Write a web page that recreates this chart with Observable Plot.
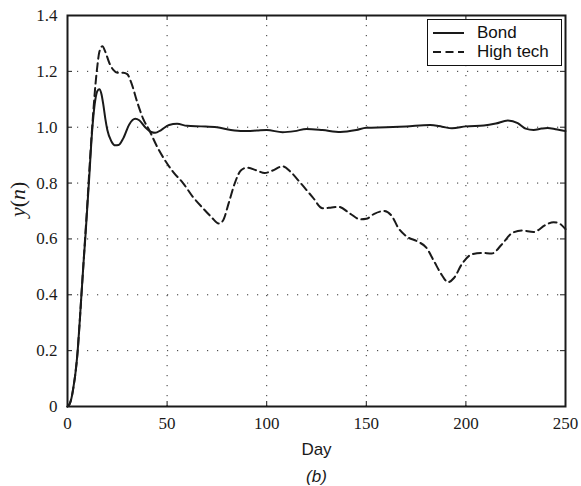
<!DOCTYPE html>
<html>
<head>
<meta charset="utf-8">
<script src="https://cdn.jsdelivr.net/npm/d3@7"></script>
<script src="https://cdn.jsdelivr.net/npm/@observablehq/plot@0.6"></script>
<style>
  body { margin: 0; background: #fff; }
  #wrap { position: relative; width: 581px; height: 486px; }
  #legend { position: absolute; left: 427px; top: 19px; width: 133px; height: 45px;
    border: 1px solid #111; background: #fff; font: 17px "Liberation Sans", Arial, sans-serif; color: #111; }
  .row { position: absolute; left: 5px; height: 20px; display: flex; align-items: center; }
  .row svg { margin-right: 13px; }
</style>
</head>
<body>
<div id="wrap"></div>
<script>
const seriesNames = ["Bond", "High tech"];
const bondDay = [0,1,2,3,4,5,6,7,8,9,10,11,12,13,14,15,16,17,18,19,20,22,24,25.6,28,31,34,36,39,42,44,47,51,55,60,67,75,82,88,95,100,108,114,120,128,137,145,150,160,170,182,188,193,200,209,215,221,226,230,234,238,241,245,250];
const bondVal = [0,0.008,0.03,0.07,0.12,0.19,0.29,0.40,0.51,0.61,0.72,0.83,0.95,1.04,1.10,1.13,1.136,1.12,1.08,1.03,0.99,0.95,0.935,0.936,0.96,1.01,1.03,1.025,1.0,0.983,0.98,0.99,1.008,1.012,1.005,1.003,1.0,0.99,0.986,0.988,0.99,0.982,0.986,0.994,0.99,0.983,0.99,0.998,1.0,1.003,1.008,1.002,0.996,1.003,1.006,1.013,1.024,1.015,0.995,0.99,0.995,0.997,0.993,0.986];
const techDay = [0,1,2,3,4,5,6,7,8,9,10,11,12,13,14,15,16,17.5,19,21,23,25,28,30,32,35,38,41,45,50,53,58,63,68,72,76,78,81,84,87,90,95,99,103,108,112,117,123,128,132,136,142,147,150,154,159,163,166,170,176,180,184,188,191,194,198,203,208,213,218,223,228,234,240,244,247,250];
const techVal = [0,0.008,0.03,0.07,0.12,0.19,0.29,0.40,0.51,0.62,0.73,0.85,0.96,1.06,1.15,1.22,1.27,1.29,1.27,1.23,1.205,1.195,1.195,1.19,1.16,1.09,1.03,0.99,0.93,0.87,0.84,0.80,0.75,0.71,0.68,0.655,0.665,0.73,0.80,0.845,0.855,0.845,0.836,0.845,0.86,0.84,0.80,0.75,0.71,0.712,0.715,0.69,0.67,0.672,0.69,0.70,0.68,0.64,0.61,0.59,0.57,0.52,0.47,0.445,0.46,0.51,0.545,0.55,0.548,0.58,0.62,0.63,0.625,0.65,0.66,0.655,0.635];
const xTicks = [0,50,100,150,200,250];
const yTicks = [0,0.2,0.4,0.6,0.8,1.0,1.2,1.4];
const xLabel = "Day";
const yLabel = "y(n)";
const caption = "(b)";

const bond = bondDay.map((d, i) => ({day: d, value: bondVal[i]}));
const tech = techDay.map((d, i) => ({day: d, value: techVal[i]}));
const innerX = xTicks.slice(1, -1);
const innerY = yTicks.slice(1, -1);
const xMax = xTicks[xTicks.length - 1], yMax = yTicks[yTicks.length - 1];
const tickLenX = xMax * 5 / 498, tickLenY = yMax * 5 / 391;
const ink = "#1a1a1a";
const serif = "Liberation Serif, Times New Roman, serif";
const sans = "Liberation Sans, Arial, sans-serif";

const chart = Plot.plot({
  width: 581, height: 486,
  marginLeft: 67, marginRight: 16, marginTop: 15, marginBottom: 80,
  x: {domain: [0, xMax]},
  y: {domain: [0, yMax]},
  style: {background: "#fff", color: ink, fontFamily: serif},
  marks: [
    Plot.gridX(innerX, {stroke: "#333", strokeOpacity: 1, strokeDasharray: "1.2,8.8"}),
    Plot.gridY(innerY, {stroke: "#333", strokeOpacity: 1, strokeDasharray: "1.2,8.8"}),
    Plot.ruleX(innerX, {y1: 0, y2: tickLenY, stroke: ink}),
    Plot.ruleX(innerX, {y1: yMax, y2: yMax - tickLenY, stroke: ink}),
    Plot.ruleY(innerY, {x1: 0, x2: tickLenX, stroke: ink}),
    Plot.ruleY(innerY, {x1: xMax, x2: xMax - tickLenX, stroke: ink}),
    Plot.line(bond, {x: "day", y: "value", stroke: ink, strokeWidth: 2, curve: "monotone-x"}),
    Plot.line(tech, {x: "day", y: "value", stroke: ink, strokeWidth: 2, strokeDasharray: "8,4.5", curve: "monotone-x"}),
    Plot.frame({stroke: ink, strokeWidth: 2}),
    Plot.axisX(xTicks, {tickSize: 0, tickPadding: 10, fontSize: 17, fontFamily: serif, label: null}),
    Plot.axisY(yTicks, {tickSize: 0, tickPadding: 10, fontSize: 17, fontFamily: serif, tickFormat: d => d === 0 ? "0" : d.toFixed(1), label: null}),
    Plot.text([xLabel], {frameAnchor: "bottom", dy: 48, fontSize: 17, fontFamily: sans, fill: ink}),
    Plot.text([caption], {frameAnchor: "bottom", dy: 75, fontSize: 17, fontFamily: sans, fontStyle: "italic", fill: ink}),
    Plot.text([yLabel], {frameAnchor: "left", dx: -50, dy: 6, rotate: -90, fontSize: 22, fontFamily: serif, fill: ink})
  ]
});
const wrap = document.getElementById("wrap");
wrap.appendChild(chart);
d3.select(chart).selectAll("text").filter(function () { return this.textContent === yLabel; })
  .each(function () {
    const t = d3.select(this);
    t.text(null);
    t.append("tspan").attr("font-style", "italic").text("y");
    t.append("tspan").text("(");
    t.append("tspan").attr("font-style", "italic").text("n");
    t.append("tspan").text(")");
  });

const legend = document.createElement("div");
legend.id = "legend";
const dashes = [null, "8,4.5"];
seriesNames.forEach((name, i) => {
  const row = document.createElement("div");
  row.className = "row";
  row.style.top = (3 + i * 19) + "px";
  row.innerHTML = `<svg width="31" height="6"><line x1="0" x2="31" y1="3" y2="3" stroke="${ink}" stroke-width="2" ${dashes[i] ? `stroke-dasharray="${dashes[i]}"` : ""}/></svg><span>${name}</span>`;
  legend.appendChild(row);
});
wrap.appendChild(legend);
</script>
</body>
</html>
